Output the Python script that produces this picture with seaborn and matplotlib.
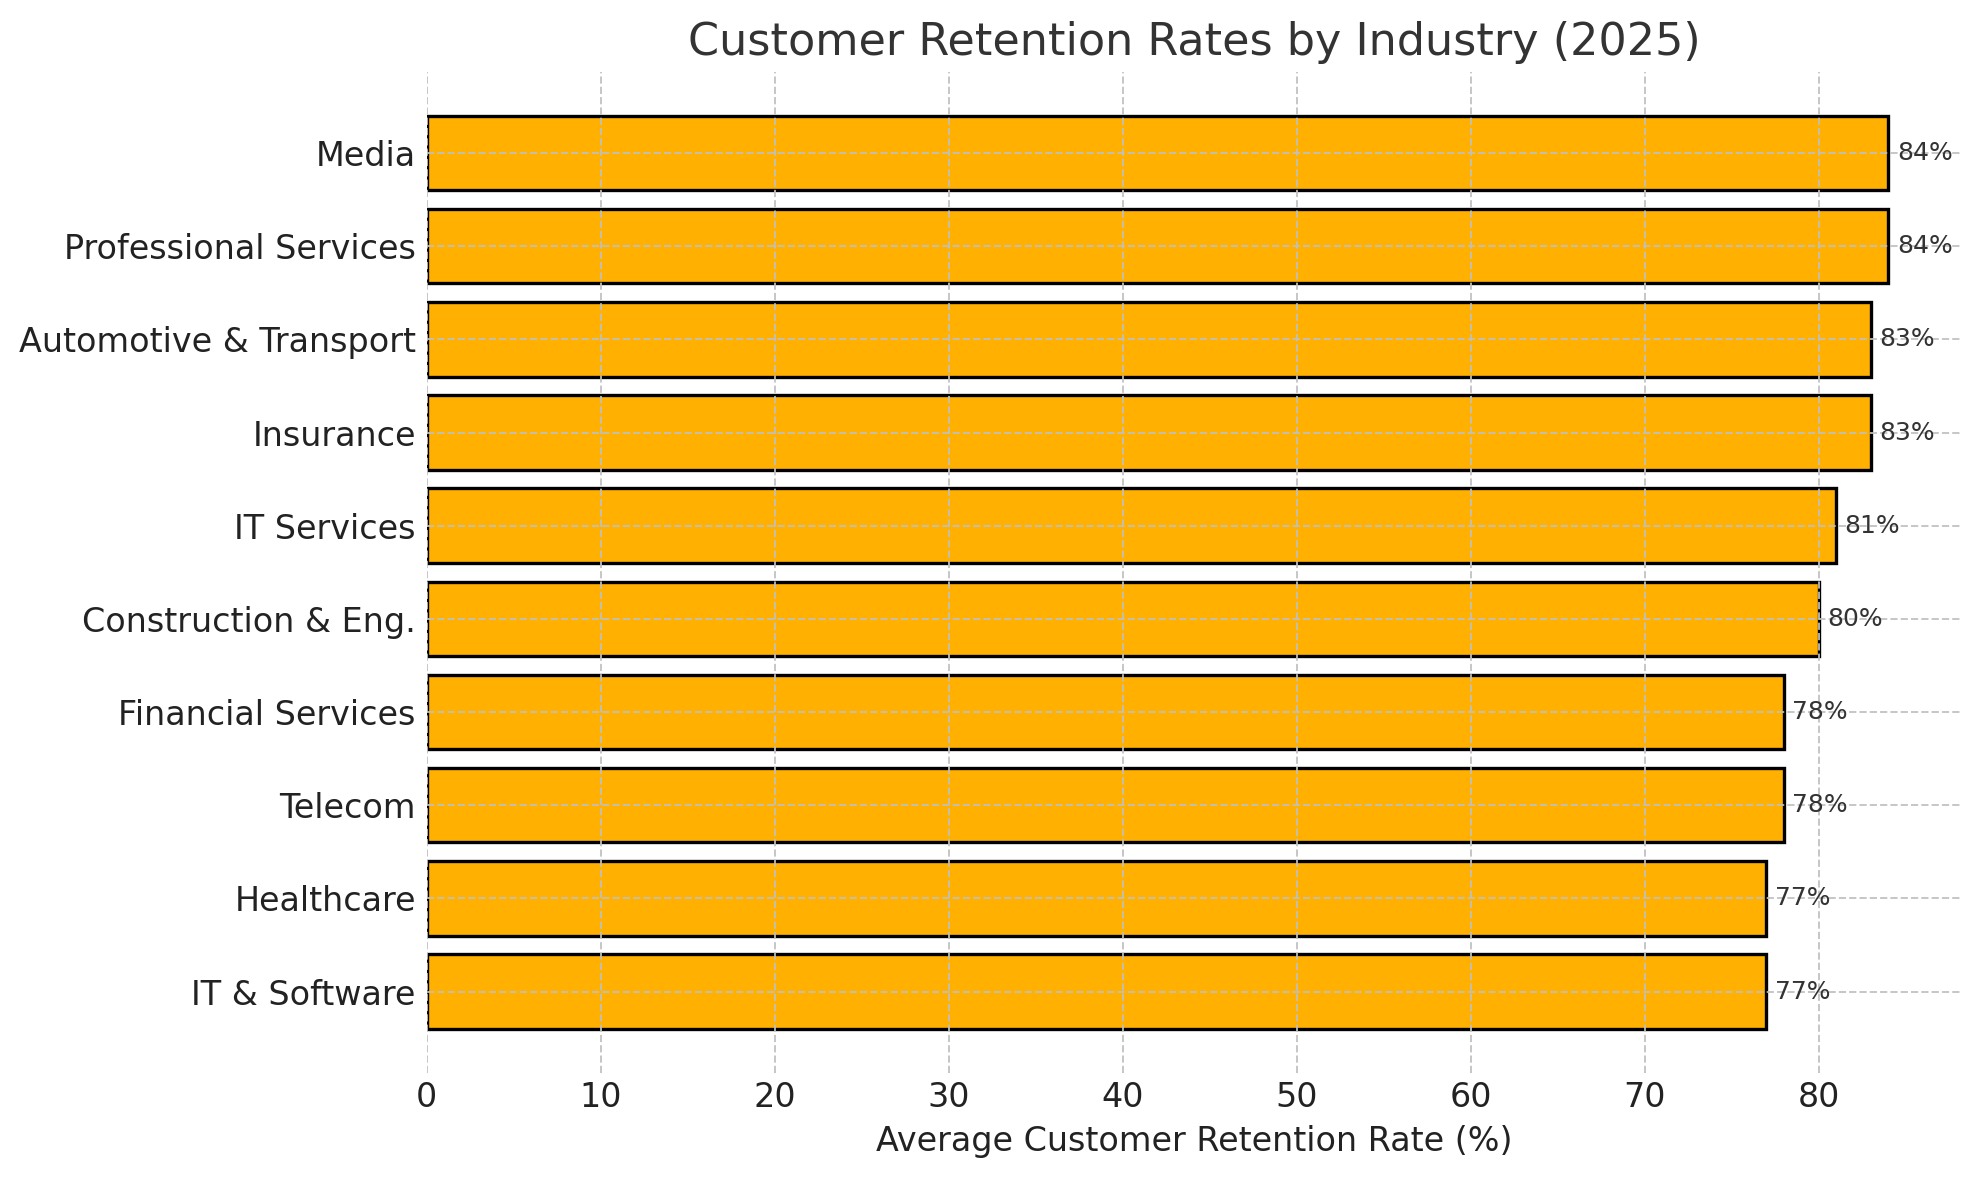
import matplotlib
matplotlib.use("Agg")
import matplotlib.pyplot as plt
import seaborn as sns
import pandas as pd

industries = ["Media", "Professional Services", "Automotive & Transport", "Insurance",
              "IT Services", "Construction & Eng.", "Financial Services", "Telecom",
              "Healthcare", "IT & Software"]
retention = [84, 84, 83, 83, 81, 80, 78, 78, 77, 77]

df = pd.DataFrame({"industry": industries, "retention": retention})

sns.set_style("white")
plt.rcParams['font.family'] = ['DejaVu Sans']

fig, ax = plt.subplots(figsize=(9.895, 5.9), dpi=200)
sns.barplot(data=df, x="retention", y="industry", orient="h", color="#FFB000",
            saturation=1, edgecolor="black", linewidth=1.2, width=0.8, ax=ax)

for p, v in zip(ax.patches, retention):
    y = p.get_y() + p.get_height() / 2
    ax.text(p.get_width() + 0.5, y, f"{v}%", va="center", ha="left",
            fontsize=9, color="#333333")

n = len(industries)
ax.set_xlim(0, max(retention) * 1.05)
ax.set_ylim(n - 1 + 0.4 + 0.47, -0.4 - 0.47)
ax.grid(True, linestyle="--", color="#c0c0c0", linewidth=0.7, alpha=0.9)
ax.set_axisbelow(False)
for s in ax.spines.values():
    s.set_visible(False)
ax.tick_params(axis="y", which="both", direction="in", length=3.5, width=1.0, pad=4,
               color="#222222", labelsize=12, labelcolor="#222222")
ax.tick_params(axis="x", which="both", direction="in", length=3.5, width=1.0, pad=3,
               color="#222222", labelsize=12, labelcolor="#222222")
ax.set_ylabel("")
ax.set_xlabel("Average Customer Retention Rate (%)", fontsize=12, color="#222222", labelpad=4)
ax.set_title("Customer Retention Rates by Industry (2025)", fontsize=16, color="#333333")

fig.subplots_adjust(left=0.2157, right=0.991, top=0.939, bottom=0.091)
fig.savefig("out.png", dpi=200)
